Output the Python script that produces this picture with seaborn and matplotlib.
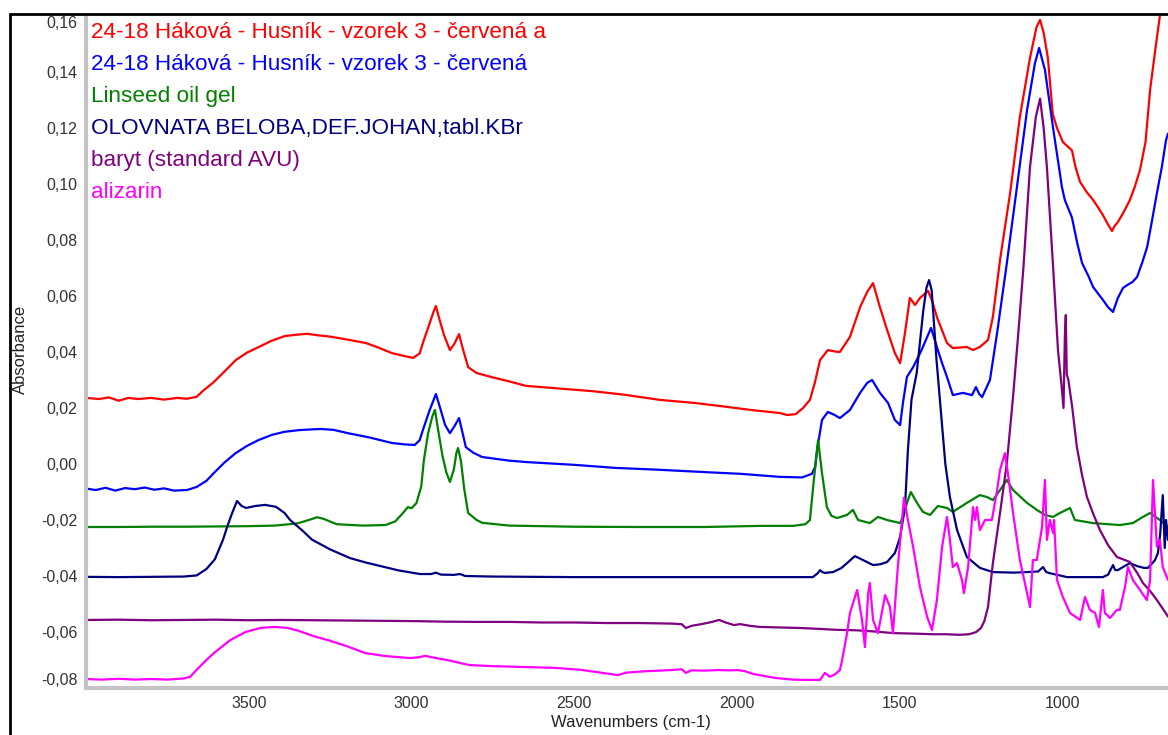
import numpy as np
import pandas as pd
import seaborn as sns
import matplotlib.pyplot as plt
from matplotlib.lines import Line2D
from matplotlib.ticker import MultipleLocator

# FTIR spectra (wavenumber in cm-1, absorbance)
red_wn = [3998, 3960, 3930, 3900, 3870, 3840, 3800, 3760, 3720, 3690, 3660, 3640, 3610, 3575, 3540,
          3505, 3469, 3430, 3389, 3350, 3320, 3290, 3250, 3200, 3140, 3100, 3060, 3020, 2995, 2975,
          2962, 2945, 2932, 2925, 2915, 2900, 2882, 2868, 2854, 2842, 2826, 2800, 2756, 2700, 2648,
          2550, 2443, 2350, 2237, 2130, 2031, 1950, 1868, 1847, 1820, 1797, 1776, 1761, 1745, 1721,
          1700, 1684, 1653, 1622, 1600, 1582, 1561, 1539, 1515, 1499, 1484, 1469, 1453, 1438, 1413,
          1400, 1386, 1355, 1337, 1294, 1275, 1254, 1229, 1214, 1192, 1161, 1131, 1100, 1080, 1069,
          1058, 1045, 1030, 1017, 999, 985, 971, 960, 946, 925, 906, 890, 876, 860, 848,
          840, 830, 812, 793, 778, 762, 745, 731, 715, 701, 690]
red_abs = [0.0236, 0.0232, 0.0238, 0.0226, 0.0236, 0.0232, 0.0236, 0.0230, 0.0236, 0.0233, 0.0240, 0.0262, 0.0290, 0.0330, 0.0371,
           0.0398, 0.0418, 0.0440, 0.0457, 0.0462, 0.0465, 0.0460, 0.0455, 0.0445, 0.0432, 0.0415, 0.0396, 0.0385, 0.0379, 0.0395,
           0.0443, 0.0500, 0.0545, 0.0564, 0.0520, 0.0460, 0.0407, 0.0430, 0.0464, 0.0410, 0.0346, 0.0325, 0.0311, 0.0295, 0.0279,
           0.0270, 0.0260, 0.0248, 0.0229, 0.0218, 0.0204, 0.0192, 0.0182, 0.0175, 0.0178, 0.0200, 0.0229, 0.0290, 0.0371, 0.0407,
           0.0402, 0.0400, 0.0454, 0.0560, 0.0615, 0.0646, 0.0560, 0.0479, 0.0396, 0.0360, 0.0468, 0.0593, 0.0568, 0.0593, 0.0618,
           0.0580, 0.0525, 0.0432, 0.0414, 0.0418, 0.0407, 0.0418, 0.0443, 0.0525, 0.0729, 0.0968, 0.1240, 0.1450, 0.1560, 0.1586,
           0.1540, 0.1450, 0.1250, 0.1200, 0.1150, 0.1135, 0.1120, 0.1060, 0.1007, 0.0970, 0.0943, 0.0915, 0.0889, 0.0855, 0.0832,
           0.0850, 0.0864, 0.0900, 0.0943, 0.0990, 0.1050, 0.1150, 0.1336, 0.1480, 0.1600, 0.1700]

blue_wn = [3998, 3970, 3940, 3910, 3880, 3850, 3820, 3790, 3760, 3730, 3690, 3660, 3630, 3607, 3575,
           3540, 3505, 3469, 3429, 3390, 3346, 3300, 3278, 3240, 3195, 3130, 3060, 3020, 2990, 2975,
           2962, 2945, 2925, 2912, 2897, 2882, 2868, 2854, 2845, 2833, 2810, 2783, 2700, 2648, 2500,
           2372, 2250, 2098, 1990, 1868, 1800, 1770, 1760, 1754, 1739, 1721, 1700, 1684, 1653, 1622,
           1600, 1585, 1561, 1536, 1515, 1499, 1490, 1478, 1459, 1440, 1429, 1404, 1386, 1370, 1355,
           1337, 1306, 1278, 1266, 1256, 1247, 1223, 1201, 1171, 1140, 1109, 1085, 1072, 1054, 1029,
           1002, 993, 971, 955, 940, 920, 906, 876, 860, 845, 830, 814, 800, 785, 771,
           755, 740, 725, 710, 695, 682, 676]
blue_abs = [-0.0088, -0.0093, -0.0085, -0.0095, -0.0086, -0.0090, -0.0084, -0.0092, -0.0087, -0.0095, -0.0093, -0.0082, -0.0060, -0.0032, 0.0005,
            0.0039, 0.0065, 0.0086, 0.0104, 0.0115, 0.0121, 0.0124, 0.0125, 0.0122, 0.0110, 0.0095, 0.0075, 0.0070, 0.0068, 0.0085,
            0.0132, 0.0190, 0.0250, 0.0200, 0.0140, 0.0110, 0.0135, 0.0164, 0.0120, 0.0060, 0.0040, 0.0025, 0.0012, 0.0007, -0.0003,
            -0.0014, -0.0020, -0.0029, -0.0035, -0.0046, -0.0048, -0.0035, -0.0010, 0.0050, 0.0157, 0.0186, 0.0175, 0.0164, 0.0193, 0.0254,
            0.0290, 0.0300, 0.0254, 0.0218, 0.0157, 0.0139, 0.0220, 0.0311, 0.0346, 0.0390, 0.0418, 0.0486, 0.0418, 0.0360, 0.0311,
            0.0246, 0.0254, 0.0246, 0.0275, 0.0250, 0.0239, 0.0300, 0.0468, 0.0718, 0.0990, 0.1264, 0.1430, 0.1486, 0.1407, 0.1200,
            0.0990, 0.0943, 0.0880, 0.0790, 0.0718, 0.0670, 0.0632, 0.0586, 0.0560, 0.0543, 0.0593, 0.0629, 0.0640, 0.0650, 0.0668,
            0.0720, 0.0775, 0.0870, 0.0968, 0.1060, 0.1157, 0.1180]

green_wn = [3998, 3900, 3800, 3700, 3600, 3500, 3420, 3350, 3310, 3290, 3270, 3230, 3150, 3080, 3050,
            3030, 3011, 3000, 2985, 2970, 2962, 2949, 2936, 2928, 2918, 2905, 2893, 2882, 2870, 2862,
            2857, 2848, 2838, 2826, 2800, 2783, 2700, 2500, 2300, 2100, 1929, 1828, 1790, 1776, 1764,
            1751, 1739, 1724, 1710, 1693, 1662, 1644, 1628, 1592, 1567, 1539, 1499, 1488, 1478, 1466,
            1447, 1429, 1407, 1383, 1355, 1337, 1294, 1254, 1232, 1214, 1192, 1171, 1152, 1109, 1079,
            1054, 1029, 1008, 977, 962, 907, 824, 784, 753, 731, 701, 676]
green_abs = [-0.0225, -0.0225, -0.0224, -0.0224, -0.0223, -0.0222, -0.0220, -0.0212, -0.0198, -0.0190, -0.0196, -0.0215, -0.0220, -0.0218, -0.0205,
             -0.0180, -0.0154, -0.0158, -0.0140, -0.0080, 0.0014, 0.0110, 0.0170, 0.0193, 0.0120, 0.0030, -0.0030, -0.0064, -0.0020, 0.0040,
             0.0057, 0.0010, -0.0090, -0.0175, -0.0200, -0.0210, -0.0220, -0.0224, -0.0225, -0.0225, -0.0221, -0.0221, -0.0215, -0.0200, -0.0057,
             0.0086, -0.0032, -0.0154, -0.0185, -0.0193, -0.0182, -0.0164, -0.0200, -0.0211, -0.0189, -0.0200, -0.0211, -0.0180, -0.0139, -0.0100,
             -0.0139, -0.0171, -0.0182, -0.0150, -0.0157, -0.0171, -0.0139, -0.0111, -0.0118, -0.0129, -0.0093, -0.0057, -0.0093, -0.0139, -0.0164,
             -0.0182, -0.0189, -0.0175, -0.0157, -0.0200, -0.0211, -0.0218, -0.0211, -0.0189, -0.0175, -0.0200, -0.0225]

navy_wn = [3998, 3900, 3800, 3700, 3660, 3630, 3604, 3579, 3565, 3551, 3536, 3522, 3508, 3480, 3450,
           3416, 3390, 3373, 3333, 3306, 3250, 3189, 3140, 3097, 3040, 2974, 2940, 2925, 2910, 2870,
           2851, 2835, 2750, 2500, 2200, 1900, 1767, 1752, 1745, 1738, 1730, 1705, 1680, 1662, 1638,
           1613, 1582, 1560, 1539, 1515, 1499, 1484, 1475, 1464, 1448, 1428, 1418, 1410, 1402, 1387,
           1371, 1360, 1346, 1324, 1294, 1254, 1214, 1150, 1109, 1075, 1060, 1050, 1039, 986, 900,
           876, 860, 845, 838, 830, 810, 793, 770, 750, 738, 725, 716, 707, 700, 692,
           686, 682, 676]
navy_abs = [-0.0403, -0.0404, -0.0403, -0.0402, -0.0398, -0.0375, -0.0340, -0.0270, -0.0220, -0.0175, -0.0132, -0.0150, -0.0157, -0.0150, -0.0146,
            -0.0153, -0.0175, -0.0200, -0.0240, -0.0270, -0.0305, -0.0336, -0.0352, -0.0364, -0.0380, -0.0393, -0.0393, -0.0388, -0.0395, -0.0396,
            -0.0393, -0.0400, -0.0402, -0.0404, -0.0404, -0.0404, -0.0404, -0.0390, -0.0379, -0.0386, -0.0389, -0.0386, -0.0372, -0.0354, -0.0329,
            -0.0343, -0.0361, -0.0358, -0.0350, -0.0318, -0.0261, -0.0154, 0.0050, 0.0230, 0.0325, 0.0546, 0.0630, 0.0657, 0.0620, 0.0370,
            0.0150, 0.0000, -0.0118, -0.0236, -0.0332, -0.0371, -0.0386, -0.0388, -0.0386, -0.0384, -0.0368, -0.0386, -0.0390, -0.0404, -0.0404,
            -0.0404, -0.0395, -0.0361, -0.0379, -0.0379, -0.0365, -0.0354, -0.0365, -0.0371, -0.0371, -0.0355, -0.0343, -0.0318, -0.0250, -0.0111,
            -0.0300, -0.0200, -0.0271]

purple_wn = [3998, 3900, 3800, 3700, 3600, 3500, 3400, 3300, 3200, 3100, 3000, 2900, 2800, 2700, 2600,
             2500, 2400, 2300, 2200, 2170, 2157, 2140, 2110, 2080, 2055, 2035, 2010, 1990, 1960, 1929,
             1862, 1800, 1745, 1700, 1631, 1580, 1518, 1450, 1400, 1358, 1316, 1287, 1265, 1250, 1240,
             1229, 1214, 1192, 1171, 1152, 1135, 1120, 1100, 1082, 1069, 1058, 1048, 1029, 1014, 1003,
             997, 993, 990, 987, 982, 970, 956, 940, 925, 905, 885, 860, 833, 793, 770,
             753, 730, 710, 685, 676]
purple_abs = [-0.0557, -0.0556, -0.0558, -0.0557, -0.0556, -0.0558, -0.0557, -0.0558, -0.0559, -0.0560, -0.0561, -0.0563, -0.0564, -0.0564, -0.0566,
              -0.0566, -0.0568, -0.0568, -0.0570, -0.0572, -0.0586, -0.0578, -0.0572, -0.0565, -0.0557, -0.0566, -0.0575, -0.0572, -0.0578, -0.0582,
              -0.0584, -0.0586, -0.0589, -0.0592, -0.0594, -0.0598, -0.0604, -0.0606, -0.0608, -0.0608, -0.0610, -0.0608, -0.0600, -0.0585, -0.0560,
              -0.0511, -0.0354, -0.0175, 0.0004, 0.0240, 0.0480, 0.0704, 0.1060, 0.1240, 0.1305, 0.1200, 0.1060, 0.0704, 0.0407, 0.0280,
              0.0200, 0.0450, 0.0532, 0.0320, 0.0300, 0.0200, 0.0061, -0.0040, -0.0118, -0.0180, -0.0236, -0.0290, -0.0332, -0.0350, -0.0390,
              -0.0425, -0.0455, -0.0486, -0.0529, -0.0545]

magenta_wn = [3998, 3950, 3900, 3850, 3800, 3750, 3700, 3680, 3660, 3630, 3607, 3580, 3557, 3510, 3462,
              3420, 3383, 3349, 3327, 3300, 3257, 3200, 3143, 3080, 3005, 2975, 2959, 2930, 2891, 2823,
              2750, 2661, 2560, 2480, 2433, 2390, 2366, 2340, 2280, 2203, 2170, 2157, 2140, 2100, 2060,
              2020, 1997, 1975, 1950, 1883, 1830, 1791, 1745, 1730, 1715, 1700, 1684, 1677, 1662, 1653,
              1631, 1616, 1607, 1597, 1592, 1582, 1567, 1545, 1530, 1521, 1506, 1493, 1487, 1475, 1459,
              1438, 1416, 1401, 1386, 1370, 1355, 1346, 1337, 1324, 1309, 1303, 1290, 1275, 1269, 1263,
              1254, 1238, 1217, 1201, 1192, 1177, 1168, 1152, 1131, 1109, 1100, 1091, 1079, 1063, 1054,
              1048, 1039, 1029, 1026, 1017, 999, 977, 946, 931, 916, 900, 888, 876, 870, 854,
              833, 824, 808, 799, 784, 762, 741, 731, 722, 710, 701, 692, 676]
magenta_abs = [-0.0768, -0.0770, -0.0767, -0.0770, -0.0768, -0.0770, -0.0766, -0.0760, -0.0735, -0.0700, -0.0675, -0.0650, -0.0629, -0.0600, -0.0585,
               -0.0582, -0.0585, -0.0595, -0.0604, -0.0615, -0.0629, -0.0650, -0.0675, -0.0686, -0.0693, -0.0690, -0.0685, -0.0692, -0.0700, -0.0718,
               -0.0722, -0.0725, -0.0728, -0.0735, -0.0743, -0.0750, -0.0754, -0.0745, -0.0740, -0.0736, -0.0733, -0.0746, -0.0737, -0.0738, -0.0736,
               -0.0737, -0.0736, -0.0740, -0.0750, -0.0764, -0.0770, -0.0771, -0.0771, -0.0746, -0.0760, -0.0752, -0.0736, -0.0700, -0.0604, -0.0532,
               -0.0450, -0.0557, -0.0654, -0.0461, -0.0425, -0.0557, -0.0604, -0.0468, -0.0511, -0.0604, -0.0368, -0.0200, -0.0121, -0.0200, -0.0296,
               -0.0439, -0.0546, -0.0593, -0.0486, -0.0296, -0.0189, -0.0271, -0.0368, -0.0354, -0.0414, -0.0461, -0.0368, -0.0154, -0.0200, -0.0154,
               -0.0236, -0.0200, -0.0200, -0.0093, -0.0021, 0.0039, -0.0032, -0.0175, -0.0343, -0.0461, -0.0511, -0.0343, -0.0343, -0.0225, -0.0057,
               -0.0271, -0.0200, -0.0246, -0.0200, -0.0414, -0.0475, -0.0532, -0.0557, -0.0475, -0.0521, -0.0532, -0.0582, -0.0450, -0.0532, -0.0550,
               -0.0521, -0.0521, -0.0439, -0.0368, -0.0414, -0.0450, -0.0486, -0.0414, -0.0057, -0.0296, -0.0271, -0.0368, -0.0414]

sample_names = ["24-18 Háková - Husník - vzorek 3 - červená a",
                "24-18 Háková - Husník - vzorek 3 - červená",
                "Linseed oil gel",
                "OLOVNATA BELOBA,DEF.JOHAN,tabl.KBr",
                "baryt (standard AVU)",
                "alizarin"]
sample_colors = ["#ff0000", "#0000ff", "#008000", "#000080", "#800080", "#ff00ff"]

x_ticks = [3500, 3000, 2500, 2000, 1500, 1000]
y_ticks = [-0.08, -0.06, -0.04, -0.02, 0.00, 0.02, 0.04, 0.06, 0.08, 0.10, 0.12, 0.14, 0.16]
y_tick_labels = ["-0,08", "-0,06", "-0,04", "-0,02", "0,00", "0,02", "0,04", "0,06",
                 "0,08", "0,10", "0,12", "0,14", "0,16"]

# long table for seaborn
series = [(red_wn, red_abs), (blue_wn, blue_abs), (green_wn, green_abs),
          (navy_wn, navy_abs), (purple_wn, purple_abs), (magenta_wn, magenta_abs)]
frames = []
for name, (wn, ab) in zip(sample_names, series):
    frames.append(pd.DataFrame({"wn": wn, "absorbance": ab, "sample": name}))
df = pd.concat(frames, ignore_index=True)

sns.set_theme(style="white")
plt.rcParams['font.family'] = ['Liberation Sans', 'DejaVu Sans']

W, H = 1168, 735
fig = plt.figure(figsize=(W / 100, H / 100), dpi=100)
ax = fig.add_axes([86 / W, (H - 688) / H, 1 - 86 / W, (688 - 16) / H])

sns.lineplot(data=df, x="wn", y="absorbance", hue="sample", hue_order=sample_names,
             palette=sample_colors, estimator=None, sort=True, legend=False,
             linewidth=1.6, ax=ax)

ax.set_xlim(4000, 676)
ax.set_ylim(-0.08, 0.16)
ax.set_xticks(x_ticks)
ax.set_xticklabels([str(t) for t in x_ticks])
ax.xaxis.set_minor_locator(MultipleLocator(100))
ax.set_yticks(y_ticks)
ylabels = ax.set_yticklabels(y_tick_labels)
ylabels[-1].set_va("top")
ylabels[0].set_va("bottom")
ax.yaxis.set_minor_locator(MultipleLocator(0.005))
ax.set_xlabel("")
ax.set_ylabel("")

for side in ["top", "right"]:
    ax.spines[side].set_visible(False)
for side in ["left", "bottom"]:
    ax.spines[side].set_color("#c4c4c4")
    ax.spines[side].set_linewidth(3)

ax.tick_params(axis="both", which="major", direction="out", length=4, width=1,
               color="#333333", labelsize=11.5, labelcolor="#333333", pad=2)
ax.tick_params(axis="both", which="minor", direction="out", length=2, width=1,
               color="#555555")

# outer window frame
fig.add_artist(Line2D([10 / W, 10 / W], [0, 1 - 14 / H], transform=fig.transFigure,
                      color="black", lw=2))
fig.add_artist(Line2D([10 / W, 1], [1 - 14 / H, 1 - 14 / H], transform=fig.transFigure,
                      color="black", lw=2))

fig.text(20 / W, 1 - 349 / H, "Absorbance", rotation=90, ha="center", va="center",
         fontsize=12, color="#222222")
fig.text(631 / W, 1 - 723 / H, "Wavenumbers (cm-1)", ha="center", va="center",
         fontsize=12, color="#222222")

# coloured sample names in the top-left corner
for i, (name, col) in enumerate(zip(sample_names, sample_colors)):
    fig.text(91 / W, 1 - (33 + 31.8 * i) / H, name, color=col, fontsize=16.2,
             ha="left", va="center")

fig.savefig("out.png", dpi=100)
